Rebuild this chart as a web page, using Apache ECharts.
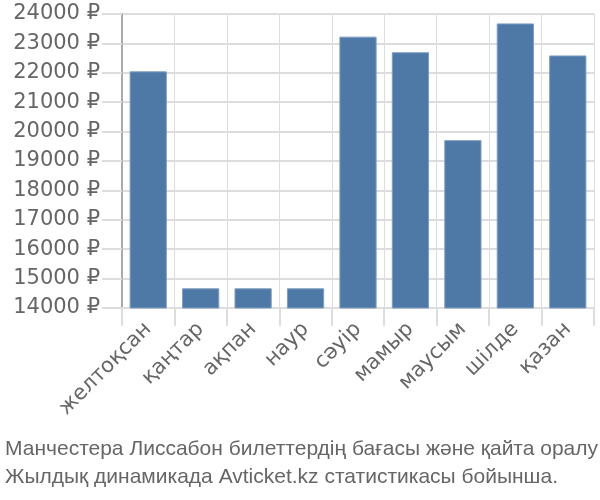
<!DOCTYPE html>
<html>
<head>
<meta charset="utf-8">
<script src="https://cdn.jsdelivr.net/npm/echarts@6/dist/echarts.min.js"></script>
<style>
html,body{margin:0;padding:0;background:#fff;}
#c{width:600px;height:500px;}
</style>
</head>
<body>
<div id="c"></div>
<script>
const categories = ["желтоқсан","қаңтар","ақпан","наур","сәуір","мамыр","маусым","шілде","қазан"];
const prices = [22050, 14670, 14670, 14670, 23230, 22700, 19710, 23680, 22590];
const yMin = 14000, yMax = 24000, yStep = 1000;
const titleLines = ["Манчестера Лиссабон билеттердің бағасы және қайта оралу", "Жылдық динамикада Avticket.kz статистикасы бойынша."];

const chart = echarts.init(document.getElementById('c'), null, {renderer:'canvas'});
chart.setOption({
  animation:false,
  grid:{left:122,right:6,top:14,bottom:192,containLabel:false},
  title:{
    text:titleLines.join('\n'),
    left:0, top:430,
    textStyle:{fontFamily:'Liberation Sans',fontSize:21,fontWeight:'normal',color:'#666',lineHeight:28}
  },
  xAxis:{
    type:'category',
    data:categories,
    axisLine:{show:true,lineStyle:{color:'#ddd',width:2}},
    axisTick:{show:true,length:18,lineStyle:{color:'#ddd',width:2}},
    splitLine:{show:true,lineStyle:{color:'#ddd',width:1}},
    axisLabel:{rotate:45,interval:0,fontFamily:'DejaVu Sans',fontSize:21,color:'#666',margin:18}
  },
  yAxis:{
    type:'value',
    min:yMin,max:yMax,interval:yStep,
    axisLine:{show:true,lineStyle:{color:'#aaa',width:2}},
    axisTick:{show:true,length:20,lineStyle:{color:'#ddd',width:2}},
    splitLine:{show:true,lineStyle:{color:'#ddd',width:2}},
    axisLabel:{fontFamily:'DejaVu Sans',fontSize:21,color:'#666',margin:22,formatter:v=>v+' ₽'}
  },
  series:[{
    type:'bar',
    data:prices,
    barCategoryGap:'29%',
    itemStyle:{color:'#4e79a7',borderColor:'#7f9dc0',borderWidth:1}
  }]
});
</script>
</body>
</html>
